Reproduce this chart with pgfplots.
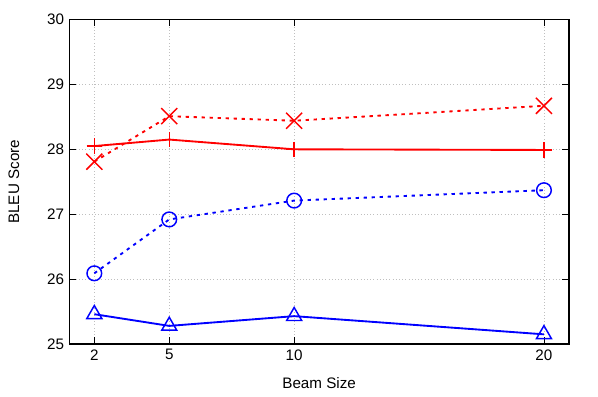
\documentclass[border=0pt]{standalone}
\usepackage{pgfplots}
\pgfplotsset{compat=1.18}
\usepackage{fontspec}
\setmainfont{Liberation Sans}

\begin{document}
\fontsize{11.4}{13}\selectfont
\begin{tikzpicture}
\begin{axis}[
    scale only axis,
    width=374.6pt,
    height=243.4pt,
    xmin=1, xmax=21,
    ymin=25, ymax=30,
    xtick={2,5,10,20},
    ytick={25,26,27,28,29,30},
    tick align=inside,
    major tick length=5pt,
    tick style={black, line width=0.6pt},
    axis line style={black, line width=0.9pt},
    xmajorgrids, ymajorgrids,
    grid style={gray!50, dotted, line width=0.5pt},
    xlabel={Beam Size},
    ylabel={BLEU Score},
    xlabel style={yshift=-5.5pt},
    ylabel style={yshift=13pt},
    /pgf/number format/assume math mode=true,
    tick label style={font=\fontsize{11.4}{13}\selectfont},
    label style={font=\fontsize{11.4}{13}\selectfont},
]
\addplot[red, line width=1.4pt, mark=+, mark size=5.8pt, mark options={solid, line width=1.1pt}]
  coordinates {(2,28.05) (5,28.15) (10,28.0) (20,27.99)};
\addplot[red, line width=1.4pt, dash pattern=on 2.5pt off 3.5pt, mark=x, mark size=8.5pt, mark options={solid, line width=1.1pt}]
  coordinates {(2,27.81) (5,28.51) (10,28.44) (20,28.67)};
\addplot[blue, line width=1.4pt, dash pattern=on 2.5pt off 3.5pt, mark=o, mark size=5.5pt, mark options={solid, line width=1.1pt}]
  coordinates {(2,26.09) (5,26.92) (10,27.21) (20,27.37)};
\addplot[blue, line width=1.4pt, mark=triangle, mark size=6.5pt, mark options={solid, line width=1.1pt}]
  coordinates {(2,25.46) (5,25.28) (10,25.43) (20,25.15)};
\end{axis}
\path (current axis.south west) ++(-52pt,-39pt) coordinate (bbA);
\path (current axis.north east) ++(21.8pt,14.6pt) coordinate (bbB);
\useasboundingbox (bbA) rectangle (bbB);
\end{tikzpicture}
\end{document}
